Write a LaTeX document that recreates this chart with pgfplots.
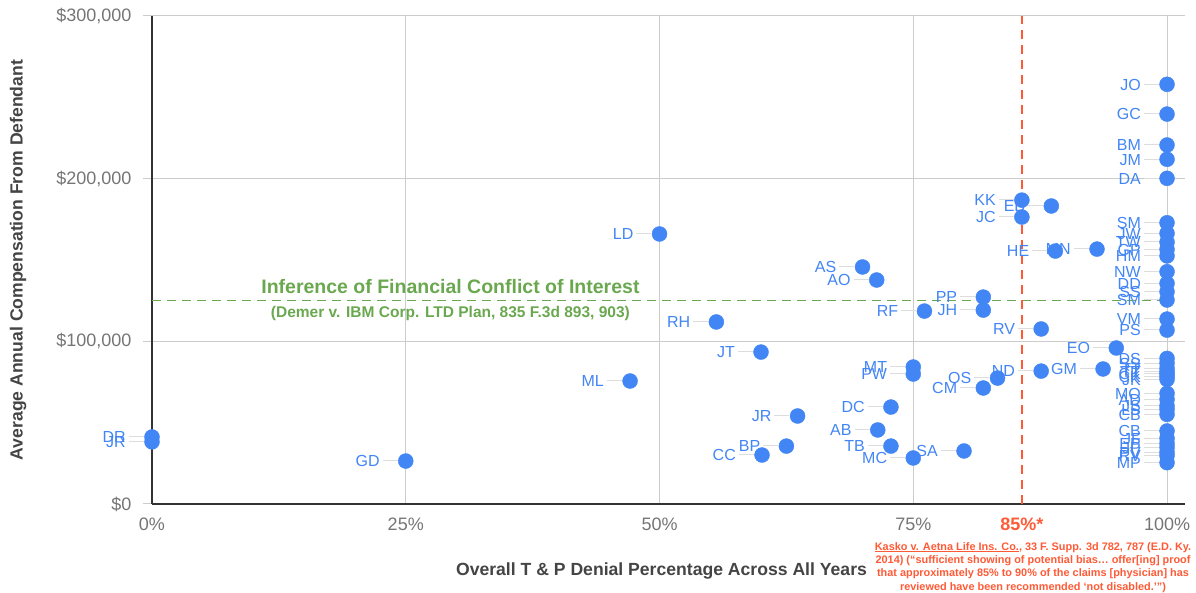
\documentclass[border=0pt]{standalone}
\usepackage{fontspec}
\setmainfont{Liberation Sans}
\usepackage{pgfplots}
\usepackage{pgfplotstable}
\pgfplotsset{compat=1.18}

\definecolor{dotblue}{HTML}{4285F4}
\definecolor{leader}{HTML}{DDDDDD}
\definecolor{gridgray}{HTML}{CCCCCC}
\definecolor{ticktext}{HTML}{757575}
\definecolor{titletext}{HTML}{444444}
\definecolor{axisdark}{HTML}{333333}
\definecolor{refgreen}{HTML}{6AA84F}
\definecolor{refred}{HTML}{FF5A36}

% x = denial %, y = avg annual compensation, lab = initials
\pgfplotstableread{
x y lab
0 41200 DR
0 38200 JR
25 26400 GD
47.1 75600 ML
50 166000 LD
55.6 111900 RH
60 93400 JT
60.1 30100 CC
62.5 35600 BP
63.6 54100 JR
70 145700 AS
71.4 137700 AO
71.5 45500 AB
72.8 59600 DC
72.8 35600 TB
75 84200 MT
75 79900 PW
75 28300 MC
76.1 118600 RF
80 32600 SA
81.9 127200 PP
81.9 119200 JH
81.9 71300 CM
83.3 77400 OS
85.7 186800 KK
85.7 176400 JC
87.6 107600 RV
87.6 81700 ND
88.6 183200 EB
89 155500 HE
93.1 156700 MN
93.7 83000 GM
95 95900 EO
100 258000 JO
100 239700 GC
100 220700 BM
100 211900 JM
100 200200 DA
100 172900 SM
100 166400 JW
100 161000 TW
100 156500 GP
100 152500 HM
100 142800 NW
100 135600 DD
100 130500 SS
100 125400 SM
100 113700 VM
100 106900 PS
100 89500 DS
100 86500 SS
100 83400 TT
100 81300 TT
100 79900 CK
100 78300 CK
100 76600 JK
100 68000 MO
100 64300 AD
100 60400 JS
100 58200 LS
100 55100 CB
100 44900 CB
100 40400 JF
100 37300 EP
100 34800 JP
100 31800 PV
100 29700 RV
100 25400 MP
}\docs

\begin{document}
\begin{tikzpicture}
\begin{axis}[
  scale only axis,
  width=1033pt, height=488pt,
  xmin=0, xmax=101.77, ymin=0, ymax=300000,
  axis x line*=bottom, axis y line*=left,
  x axis line style={draw=axisdark, line width=1.6pt},
  y axis line style={draw=axisdark, line width=1.4pt},
  xtick={0,25,50,75,100},
  xticklabels={0\%,25\%,50\%,75\%,100\%},
  ytick={0,100000,200000,300000},
  yticklabels={\$0,{\$100,000},{\$200,000},{\$300,000}},
  scaled y ticks=false,
  grid=major,
  major grid style={draw=gridgray, line width=1pt},
  tick align=outside,
  major tick length=9pt,
  xtick style={draw=none},
  ytick style={draw=gridgray, line width=1pt},
  ticklabel style={font=\fontsize{18}{21}\selectfont, text=ticktext},
  xticklabel style={yshift=-1pt},
  yticklabel style={xshift=-8pt},
  extra x ticks={85.7},
  extra x tick labels={85\%*},
  extra x tick style={grid=none, xticklabel style={text=refred, font=\bfseries\fontsize{18}{21}\selectfont}},
  xlabel={Overall T \& P Denial Percentage Across All Years},
  ylabel={Average Annual Compensation From Defendant},
  label style={font=\bfseries\fontsize{17.6}{20}\selectfont, text=titletext},
  xlabel style={at={(axis description cs:0.5,-0.1373)}, anchor=center, xshift=-7pt},
  ylabel style={at={(axis description cs:-0.1297,0.5)}, anchor=center},
  clip=false,
]
\addplot[refgreen, line width=1.6pt, dash pattern=on 9pt off 6pt]
  coordinates {(0,125000) (100,125000)};

\addplot[only marks, mark=*, mark size=7.5pt,
  mark options={draw=dotblue, fill=dotblue},
  point meta=explicit symbolic,
  nodes near coords={\pgfplotspointmeta\hspace{3pt}\textcolor{leader}{\rule[5.5pt]{15pt}{1pt}}},
  every node near coord/.append style={anchor=east, xshift=-8pt, inner sep=0pt,
    text=dotblue, font=\fontsize{16}{19}\selectfont, text height=11.5pt, text depth=0pt},
] table[x=x, y=y, meta=lab] {\docs};

\addplot[refred, line width=1.6pt, dash pattern=on 9pt off 6pt]
  coordinates {(85.7,0) (85.7,300000)};

\node[text=refgreen, font=\bfseries\fontsize{19.5}{22}\selectfont]
  at (axis cs:29.4,133400) {Inference of Financial Conflict of Interest};
\node[text=refgreen, font=\bfseries\fontsize{15.5}{18}\selectfont]
  at (axis cs:29.4,117400) {(Demer v. IBM Corp. LTD Plan, 835 F.3d 893, 903)};

\node[anchor=north, align=center, text=refred, inner sep=0pt,
  font=\bfseries\fontsize{10.9}{13.4}\selectfont]
  at ([yshift=-38pt]axis cs:86.8,0)
  {\underline{Kasko v. Aetna Life Ins. Co.}, 33 F. Supp. 3d 782, 787 (E.D. Ky.\\
   2014) (“sufficient showing of potential bias… offer[ing] proof\\
   that approximately 85\% to 90\% of the claims [physician] has\\
   reviewed have been recommended ‘not disabled.’”)};
\end{axis}
\pgfresetboundingbox
\path[use as bounding box] (-152pt,-89pt) rectangle (1044pt,504pt);
\end{tikzpicture}
\end{document}
